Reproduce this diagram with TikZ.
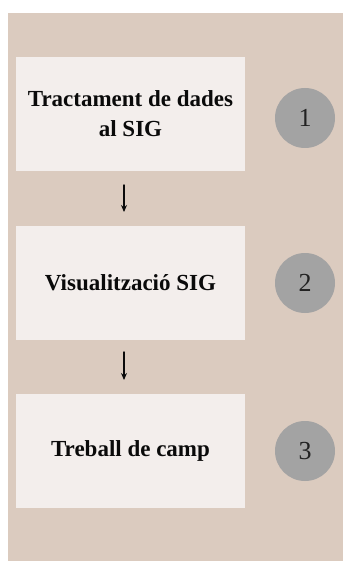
\documentclass[tikz,border=0pt]{standalone}
\usepackage{fontspec}
\setmainfont{Liberation Serif}
\usetikzlibrary{arrows.meta,positioning}
\definecolor{fcSand}{HTML}{DBCBBF}
\definecolor{fcPaper}{HTML}{F3EEEC}
\definecolor{fcDisc}{HTML}{A3A3A3}
\definecolor{fcInk}{HTML}{0A0A0A}
\tikzset{
 flowchart/.style={line cap=round,line join=round,text=fcInk},
 stepbox/.style={rectangle,fill=fcPaper,draw=none,minimum width=229pt,minimum height=114pt,
   align=center,font=\fontsize{23}{30}\selectfont\bfseries,inner sep=2pt},
 disc/.style={circle,fill=fcDisc,draw=none,minimum size=60pt,inner sep=0pt,
   font=\fontsize{26}{30}\selectfont,text=fcInk!90},
 next/.style={draw=fcInk,line width=1.4pt,-{Stealth[length=7pt,width=6pt]}}
}
\begin{document}
\begin{tikzpicture}[flowchart,x=1pt,y=-1pt]
 \useasboundingbox (0,0) rectangle (343,561);
 \fill[fcSand] (8,13) rectangle (343,561);
 % steps
 \node[stepbox] (dades) at (130.5,114) {Tractament de dades\\al SIG};
 \node[stepbox] (visual) at (130.5,282.5) {Visualització SIG};
 \node[stepbox] (camp) at (130.5,450.5) {Treball de camp};
 % numbers
 \node[disc] (n1) at (305,118) {1};
 \node[disc] (n2) at (305,283) {2};
 \node[disc] (n3) at (305,451) {3};
 % arrows
 \coordinate (a1) at (124,185); \coordinate (b1) at (124,212);
 \coordinate (a2) at (124,352); \coordinate (b2) at (124,380);
 \draw[next] (a1) -- (b1);
 \draw[next] (a2) -- (b2);
\end{tikzpicture}
\end{document}
